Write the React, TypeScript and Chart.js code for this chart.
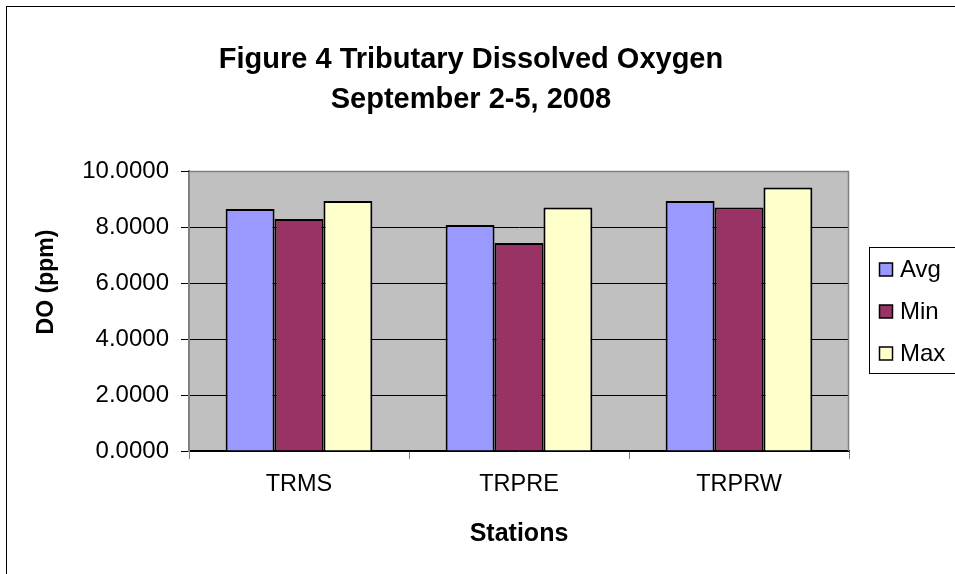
import React, { useEffect, useRef } from "react";
import { Chart, registerables } from "chart.js";

Chart.register(...registerables);

const categories = ["TRMS", "TRPRE", "TRPRW"];
const seriesNames = ["Avg", "Min", "Max"];
const avgValues = [8.64, 8.07, 8.93];
const minValues = [8.29, 7.43, 8.7];
const maxValues = [8.93, 8.7, 9.41];
const seriesColors = ["#9999FF", "#993366", "#FFFFCC"];
const yTicks = [0, 2, 4, 6, 8, 10];
const titleLines = ["Figure 4 Tributary Dissolved Oxygen", "September 2-5, 2008"];
const yAxisTitle = "DO (ppm)";
const xAxisTitle = "Stations";

const FONT = "'Liberation Sans', Arial, sans-serif";

const decor = {
  id: "decor",
  beforeDraw(chart: any) {
    const { ctx, chartArea: a } = chart;
    ctx.save();
    ctx.fillStyle = "#ffffff";
    ctx.fillRect(0, 0, chart.width, chart.height);
    ctx.fillStyle = "#C0C0C0";
    ctx.fillRect(a.left, a.top, a.right - a.left, a.bottom - a.top);
    ctx.strokeStyle = "#000000";
    ctx.lineWidth = 1;
    ctx.strokeRect(6.5, 6.5, chart.width + 10, chart.height + 10);
    ctx.restore();
  },
  afterDraw(chart: any) {
    const { ctx, chartArea: a } = chart;
    ctx.save();
    // plot area border (top, right)
    ctx.strokeStyle = "#808080";
    ctx.lineWidth = 1.5;
    ctx.beginPath();
    ctx.moveTo(a.left, a.top + 0.5);
    ctx.lineTo(a.right - 0.5, a.top + 0.5);
    ctx.lineTo(a.right - 0.5, a.bottom);
    ctx.stroke();
    ctx.strokeStyle = "#000";
    ctx.lineWidth = 1;
    ctx.beginPath();
    ctx.moveTo(a.left - 8, a.top + 0.5);
    ctx.lineTo(a.left, a.top + 0.5);
    ctx.stroke();

    // chart title
    ctx.fillStyle = "#000";
    ctx.textAlign = "center";
    ctx.textBaseline = "middle";
    ctx.font = `bold 29px ${FONT}`;
    titleLines.forEach((t, i) => ctx.fillText(t, 471, 60 + i * 40));

    // axis titles
    ctx.font = `bold 23px ${FONT}`;
    ctx.save();
    ctx.translate(47, 282);
    ctx.rotate(-Math.PI / 2);
    ctx.fillText(yAxisTitle, 0, 0);
    ctx.restore();
    ctx.font = `bold 25px ${FONT}`;
    ctx.fillText(xAxisTitle, (a.left + a.right) / 2, 534);

    // legend
    ctx.strokeStyle = "#000";
    ctx.lineWidth = 1;
    ctx.strokeRect(869.5, 247.5, 200, 126);
    ctx.font = `24px ${FONT}`;
    ctx.textAlign = "left";
    chart.data.datasets.forEach((ds: any, i: number) => {
      const cy = 270 + i * 42;
      ctx.fillStyle = ds.backgroundColor;
      ctx.fillRect(879.5, cy - 7, 13, 13);
      ctx.strokeStyle = "#000";
      ctx.lineWidth = 1.5;
      ctx.strokeRect(879.5, cy - 7, 13, 13);
      ctx.fillStyle = "#000";
      ctx.fillText(ds.label, 900, cy);
    });
    ctx.restore();
  },
};

export default function App() {
  const ref = useRef<HTMLCanvasElement>(null);
  useEffect(() => {
    document.body.style.margin = "0";
    const canvas = ref.current!;
    const seriesValues = [avgValues, minValues, maxValues];
    const chart = new Chart(canvas, {
      type: "bar",
      data: {
        labels: categories,
        datasets: seriesNames.map((name, i) => ({
          label: name,
          data: seriesValues[i],
          backgroundColor: seriesColors[i],
          borderColor: "#000000",
          borderWidth: 2,
          categoryPercentage: 0.667,
          barPercentage: 1,
        })),
      },
      options: {
        animation: false,
        responsive: false,
        devicePixelRatio: 1,
        layout: { padding: { left: 0, top: 171, right: 106, bottom: 0 } },
        plugins: {
          legend: { display: false },
          tooltip: { enabled: false },
          title: { display: false },
        },
        scales: {
          x: {
            grid: {
              offset: true,
              drawOnChartArea: false,
              drawTicks: true,
              tickLength: 8,
              color: "#808080",
            },
            border: { display: true, color: "#000", width: 1.5 },
            ticks: { color: "#000", font: { family: FONT, size: 23.5 }, padding: 11 },
            afterFit: (s: any) => {
              s.height = 123;
            },
          },
          y: {
            min: 0,
            max: 10,
            afterBuildTicks: (s: any) => {
              s.ticks = yTicks.map((v) => ({ value: v }));
            },
            grid: { color: "#000", lineWidth: 1, tickLength: 8 },
            border: { display: true, color: "#808080", width: 2 },
            ticks: {
              color: "#000",
              font: { family: FONT, size: 24 },
              padding: 12,
              callback: (v: any) => Number(v).toFixed(4),
            },
            afterFit: (s: any) => {
              s.width = 189;
            },
          },
        },
      },
      plugins: [decor],
    });
    return () => chart.destroy();
  }, []);
  return (
    <div style={{ width: 955, height: 574 }}>
      <canvas ref={ref} width={955} height={574} style={{ display: "block" }} />
    </div>
  );
}
